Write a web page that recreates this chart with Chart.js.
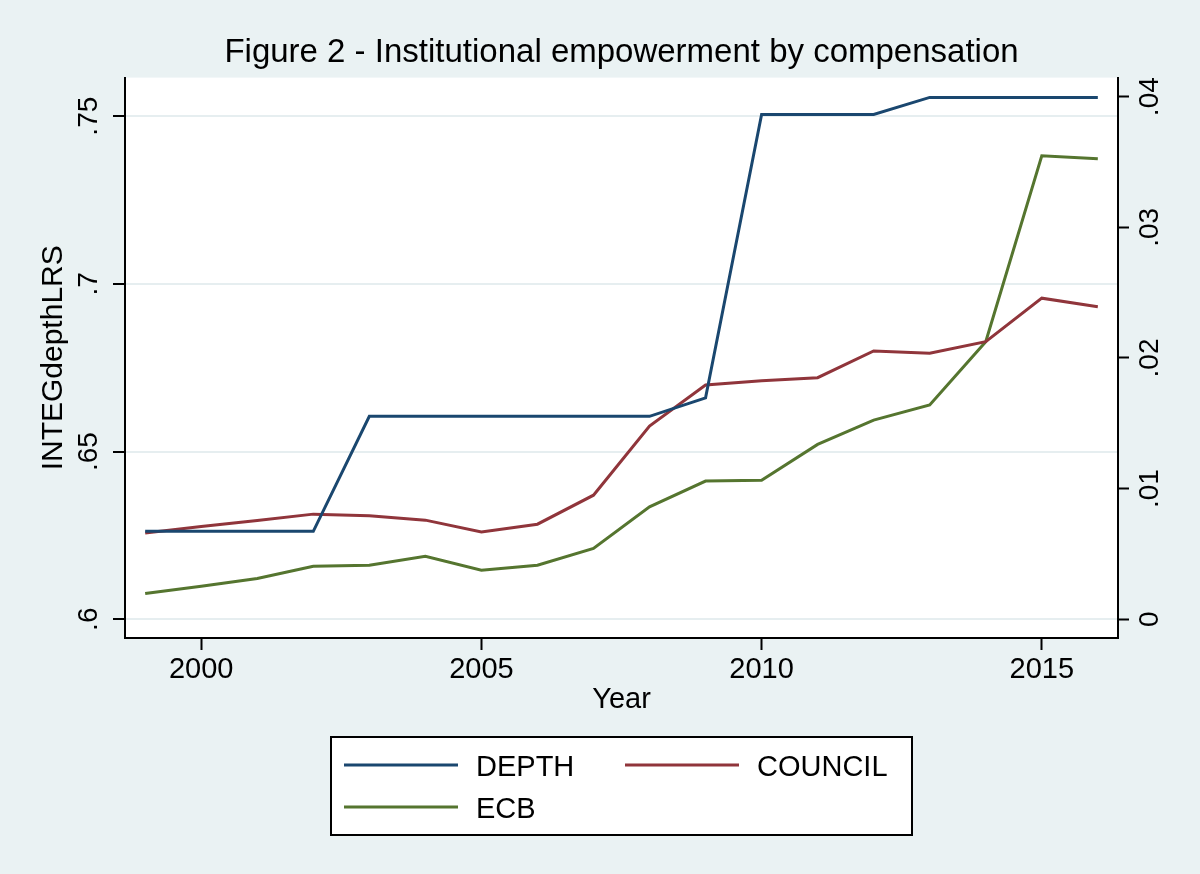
<!DOCTYPE html>
<html>
<head>
<meta charset="utf-8">
<script src="https://cdn.jsdelivr.net/npm/chart.js@4"></script>
<style>
  html, body { margin: 0; padding: 0; background: #eaf2f3; }
  #wrap { width: 1200px; height: 874px; }
</style>
</head>
<body>
<div id="wrap"><canvas id="fig2" width="1200" height="874"></canvas></div>
<script>
// years on the x axis
var years = [1999, 2000, 2001, 2002, 2003, 2004, 2005, 2006, 2007, 2008, 2009, 2010, 2011, 2012, 2013, 2014, 2015, 2016];

// INTEGdepthLRS (left axis)
var depth = [.6262, .6262, .6262, .6262, .6605, .6605, .6605, .6605, .6605, .6605, .6660, .7505, .7505, .7505, .7556, .7556, .7556, .7556];
// right axis series
var council = [.00661, .00710, .00756, .00805, .00792, .00759, .00669, .00728, .00950, .01479, .01793, .01826, .01849, .02054, .02036, .02125, .02458, .02393];
var ecb = [.00197, .00253, .00312, .00406, .00414, .00483, .00375, .00414, .00542, .00861, .01058, .01065, .01339, .01525, .01640, .02125, .03548, .03525];

// tick values and their labels
var xTicks = [2000, 2005, 2010, 2015];
var xTickLabels = ['2000', '2005', '2010', '2015'];
var yTicks = [.6, .65, .7, .75];
var yTickLabels = ['.6', '.65', '.7', '.75'];
var y2Ticks = [0, .01, .02, .03, .04];
var y2TickLabels = ['0', '.01', '.02', '.03', '.04'];

var FONT = '"Liberation Sans", Arial, sans-serif';
var BG = '#eaf2f3';

// stata-ish frame: grey page, white plot region
var bgPlugin = {
  id: 'bg',
  beforeDraw: function (chart) {
    var c = chart.ctx, a = chart.chartArea;
    c.save();
    c.fillStyle = BG;
    c.fillRect(0, 0, chart.width, chart.height);
    c.fillStyle = '#ffffff';
    c.fillRect(a.left, a.top, a.right - a.left, a.bottom - a.top);
    c.restore();
  }
};

// tick labels: rotated on both y axes, flat on x
var tickLabelPlugin = {
  id: 'tickLabels',
  afterDraw: function (chart) {
    var c = chart.ctx;
    c.save();
    c.fillStyle = '#000';
    c.font = '28px ' + FONT;
    c.textAlign = 'center';
    c.textBaseline = 'alphabetic';
    var sy = chart.scales.y, sy2 = chart.scales.y2, sx = chart.scales.x;
    yTicks.forEach(function (v, i) {
      var py = sy.getPixelForValue(v);
      c.save();
      c.translate(97, py);
      c.rotate(-Math.PI / 2);
      c.fillText(yTickLabels[i], 0, 0);
      c.restore();
    });
    y2Ticks.forEach(function (v, i) {
      var py = sy2.getPixelForValue(v);
      c.save();
      c.translate(1158, py);
      c.rotate(-Math.PI / 2);
      c.fillText(y2TickLabels[i], 0, 0);
      c.restore();
    });
    c.font = '29px ' + FONT;
    xTicks.forEach(function (v, i) {
      c.fillText(xTickLabels[i], sx.getPixelForValue(v), 678);
    });
    c.restore();
  }
};

// boxed legend under the plot, two columns
var legendPlugin = {
  id: 'boxLegend',
  afterDraw: function (chart) {
    var c = chart.ctx;
    var box = { x: 331, y: 737, w: 581, h: 98 };
    var cols = [344, 625];
    var rows = [765, 807];
    c.save();
    c.fillStyle = '#fff';
    c.fillRect(box.x, box.y, box.w, box.h);
    c.strokeStyle = '#000';
    c.lineWidth = 2;
    c.strokeRect(box.x, box.y, box.w, box.h);
    c.font = '29px ' + FONT;
    c.textBaseline = 'alphabetic';
    c.textAlign = 'left';
    chart.data.datasets.forEach(function (ds, i) {
      var lx = cols[i % 2], ly = rows[Math.floor(i / 2)];
      c.strokeStyle = ds.borderColor;
      c.lineWidth = 3;
      c.beginPath();
      c.moveTo(lx, ly);
      c.lineTo(lx + 114, ly);
      c.stroke();
      c.fillStyle = '#000';
      c.fillText(ds.label, lx + 132, ly + 11);
    });
    c.restore();
  }
};

function fixTicks(values) {
  return function (scale) {
    scale.ticks = values.map(function (v) { return { value: v }; });
  };
}

var ctx = document.getElementById('fig2');
var chart = new Chart(ctx, {
  type: 'line',
  data: {
    labels: years,
    datasets: [
      { label: 'DEPTH', data: depth, yAxisID: 'y', borderColor: '#1a476f' },
      { label: 'COUNCIL', data: council, yAxisID: 'y2', borderColor: '#90353b' },
      { label: 'ECB', data: ecb, yAxisID: 'y2', borderColor: '#55752f' }
    ]
  },
  options: {
    responsive: false,
    animation: false,
    devicePixelRatio: 1,
    layout: { padding: { left: 0, right: 0, top: 0, bottom: 154 } },
    elements: {
      line: { borderWidth: 3, tension: 0, fill: false },
      point: { radius: 0, hoverRadius: 0 }
    },
    plugins: {
      legend: { display: false },
      tooltip: { enabled: false },
      title: {
        display: true,
        fullSize: false,
        text: 'Figure 2 - Institutional empowerment by compensation',
        color: '#000',
        font: { family: FONT, size: 33, weight: 'normal', lineHeight: 1.2 },
        padding: { top: 33, bottom: 5 }
      }
    },
    scales: {
      x: {
        type: 'linear',
        min: 1998.64,
        max: 2016.36,
        afterBuildTicks: fixTicks(xTicks),
        afterFit: function (s) { s.height = 82; },
        ticks: { display: false },
        grid: { drawOnChartArea: false, drawTicks: true, tickLength: 12, tickColor: '#000', tickWidth: 2 },
        border: { display: true, color: '#000', width: 2 },
        title: {
          display: true, text: 'Year', color: '#000',
          font: { family: FONT, size: 29, lineHeight: 1.2 },
          padding: { top: 0, bottom: 3 }
        }
      },
      y: {
        type: 'linear',
        position: 'left',
        min: .5944,
        max: .7615,
        afterBuildTicks: fixTicks(yTicks),
        afterFit: function (s) { s.width = 125; },
        ticks: { display: false },
        grid: { color: '#e6eef0', lineWidth: 2, drawTicks: true, tickLength: 12, tickColor: '#000', tickWidth: 2 },
        border: { display: true, color: '#000', width: 2 },
        title: {
          display: true, text: 'INTEGdepthLRS', color: '#000',
          font: { family: FONT, size: 30, lineHeight: 1.2 },
          padding: { top: 36, bottom: 0 }
        }
      },
      y2: {
        type: 'linear',
        position: 'right',
        min: -.00143,
        max: .04146,
        afterBuildTicks: fixTicks(y2Ticks),
        afterFit: function (s) { s.width = 82; },
        ticks: { display: false },
        grid: { drawOnChartArea: false, drawTicks: true, tickLength: 11, tickColor: '#000', tickWidth: 2 },
        border: { display: true, color: '#000', width: 2 }
      }
    }
  },
  plugins: [bgPlugin, tickLabelPlugin, legendPlugin]
});
</script>
</body>
</html>
